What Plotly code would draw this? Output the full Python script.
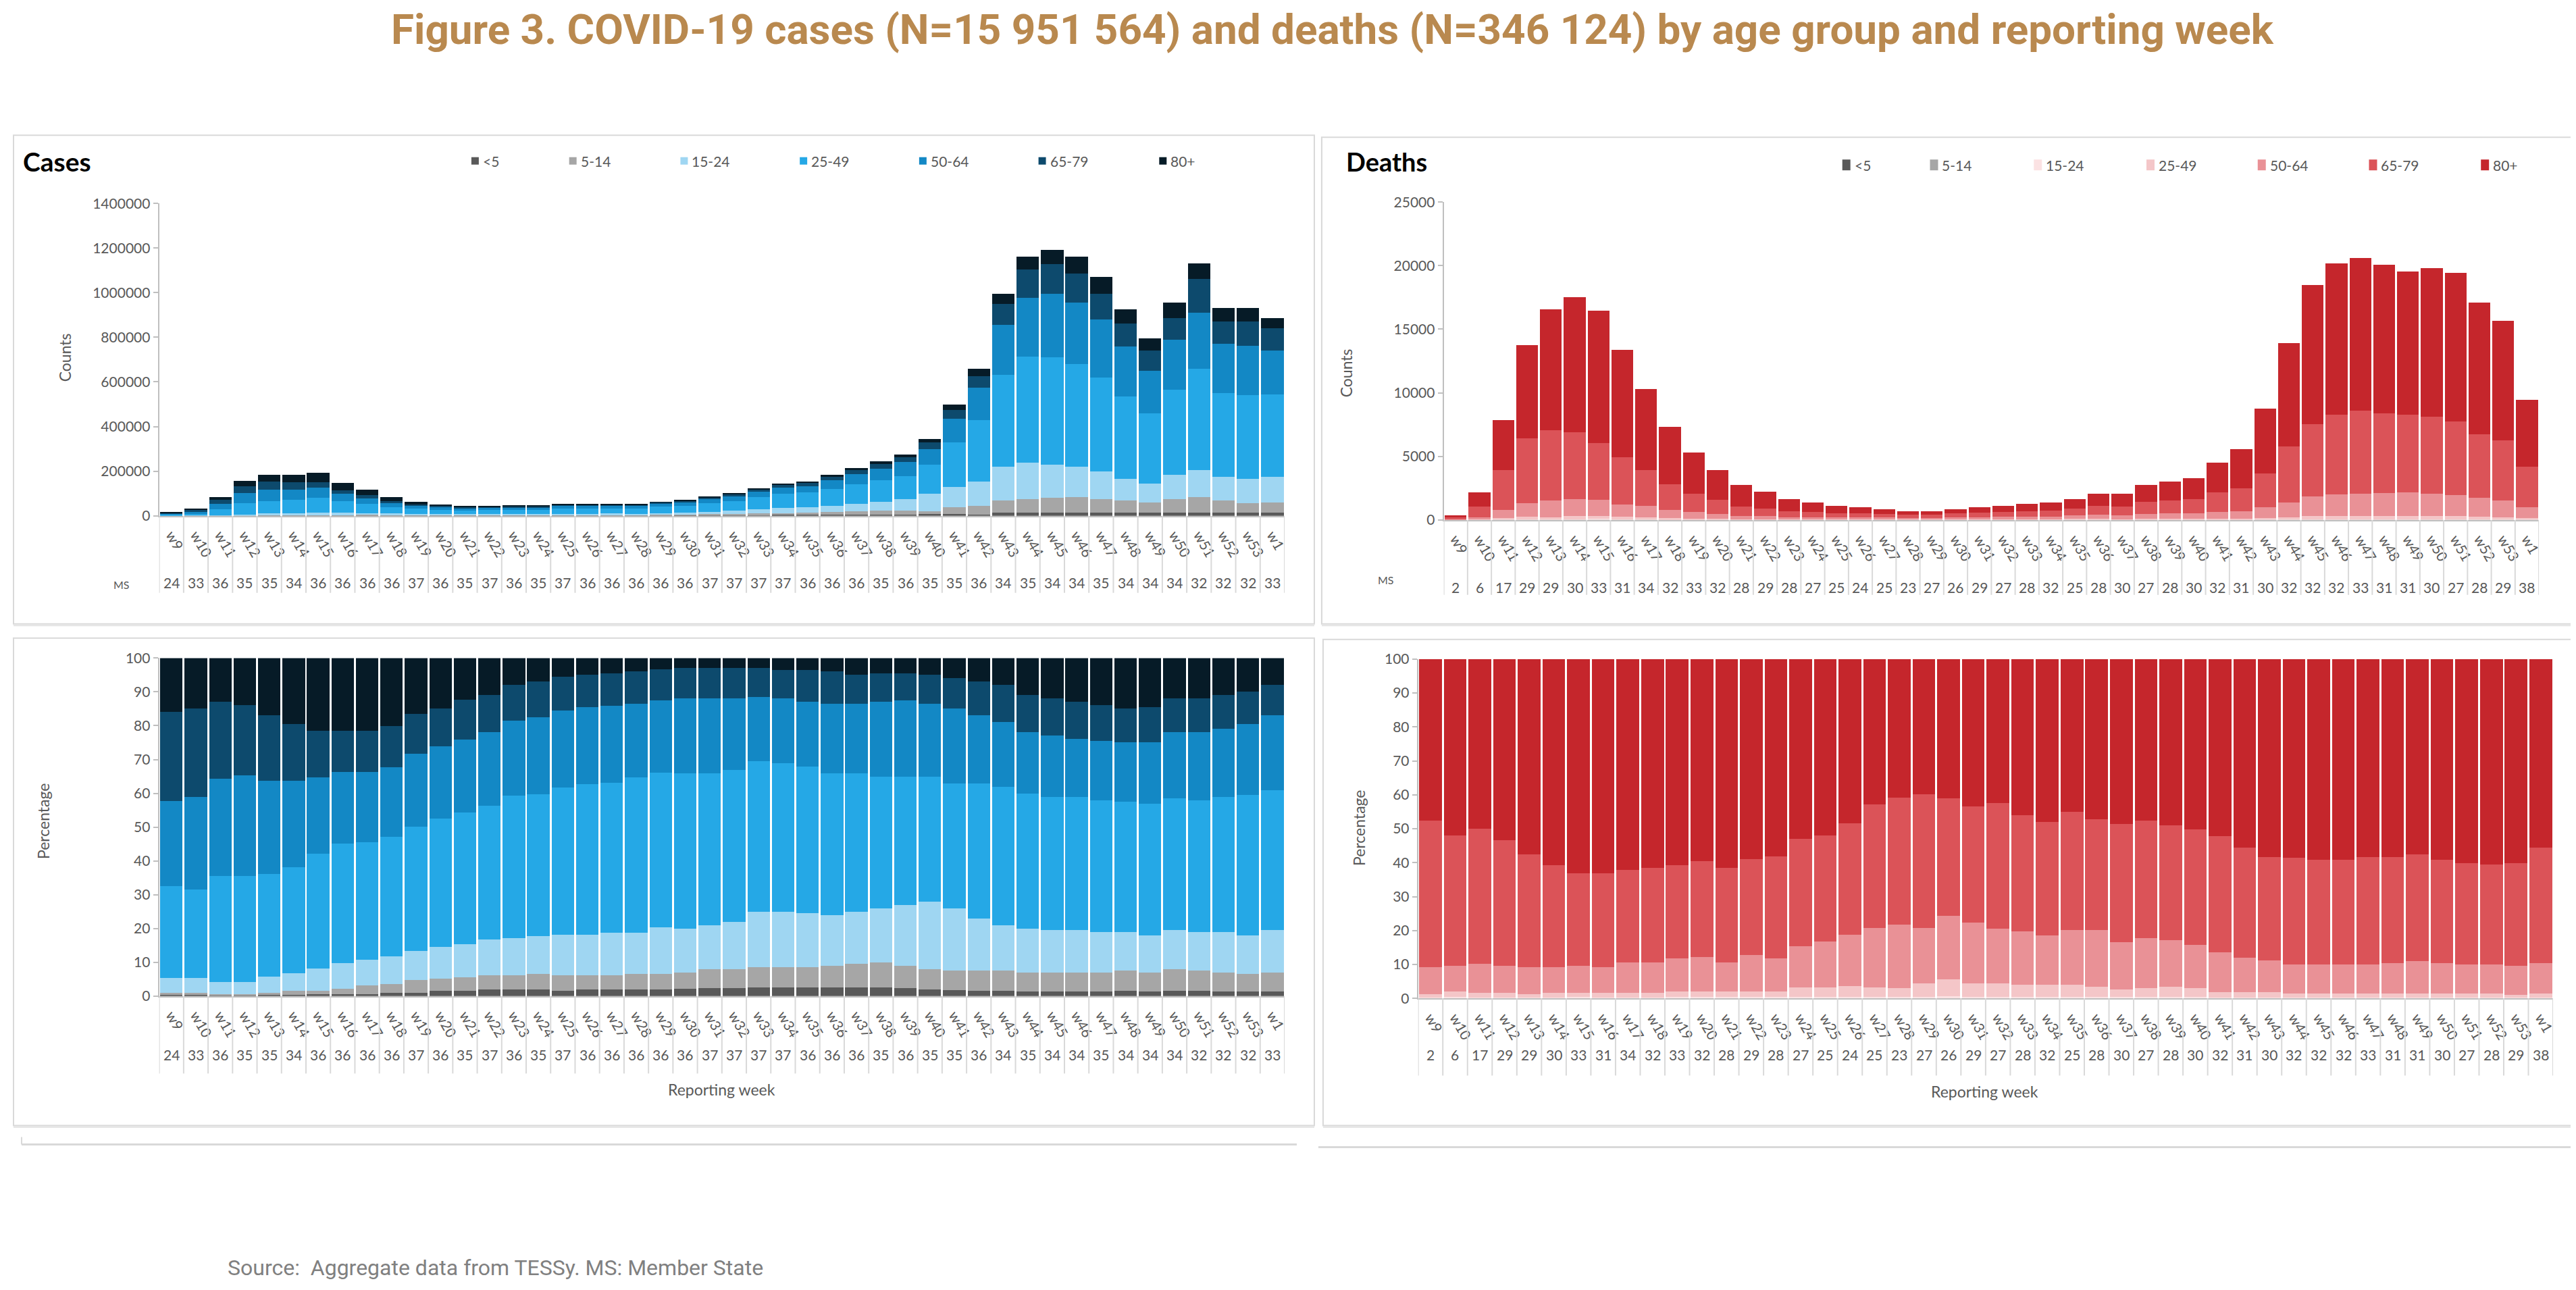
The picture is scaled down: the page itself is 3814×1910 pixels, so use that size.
import numpy as np
import plotly.graph_objects as go

W, H = 3814, 1910

# ---------------- data ----------------
weeks = ["w9", "w10", "w11", "w12", "w13", "w14", "w15", "w16", "w17", "w18", "w19", "w20",
         "w21", "w22", "w23", "w24", "w25", "w26", "w27", "w28", "w29", "w30", "w31", "w32",
         "w33", "w34", "w35", "w36", "w37", "w38", "w39", "w40", "w41", "w42", "w43", "w44",
         "w45", "w46", "w47", "w48", "w49", "w50", "w51", "w52", "w53", "w1"]
age_groups = ["<5", "5-14", "15-24", "25-49", "50-64", "65-79", "80+"]

cases_ms = [24, 33, 36, 35, 35, 34, 36, 36, 36, 36, 37, 36, 35, 37, 36, 35, 37, 36, 36, 36, 36,
            36, 37, 37, 37, 37, 36, 36, 36, 35, 36, 35, 35, 36, 34, 35, 34, 34, 35, 34, 34, 34,
            32, 32, 32, 33]
deaths_ms = [2, 6, 17, 29, 29, 30, 33, 31, 34, 32, 33, 32, 28, 29, 28, 27, 25, 24, 25, 23, 27,
             26, 29, 27, 28, 32, 25, 28, 30, 27, 28, 30, 32, 31, 30, 32, 32, 32, 33, 31, 31, 30,
             27, 28, 29, 38]

cases_total = [15000, 30000, 84000, 155000, 185000, 185000, 193000, 147000, 117000, 84000,
               62000, 52000, 45000, 45000, 45000, 45000, 52000, 52000, 52000, 51000, 61000,
               68000, 84000, 99000, 122000, 145000, 153000, 183000, 215000, 244000, 275000,
               345000, 498000, 658000, 994000, 1162000, 1192000, 1162000, 1070000, 924000,
               794000, 955000, 1131000, 932000, 932000, 886000]
deaths_total = [333, 2186, 7840, 13760, 16560, 17510, 16440, 13360, 10270, 7300, 5280, 3920,
                2730, 2190, 1640, 1350, 1120, 975, 830, 690, 690, 830, 975, 1120, 1240, 1380,
                1640, 2045, 2045, 2730, 2995, 3255, 4490, 5560, 8770, 13900, 18460, 20200,
                20600, 20080, 19530, 19820, 19420, 17110, 15660, 9430]

# Cases, counts panel: cumulative % of each bar up to the upper bound of each age group
cases_cnt_cum_lt5 = [0.3, 0.3, 0.2, 0.2, 0.3, 0.4, 0.5, 0.6, 0.6, 1.0, 1.0, 1.5, 1.5, 2.0, 2.0,
                     2.0, 1.5, 2.0, 2.0, 2.0, 2.0, 2.2, 2.3, 2.3, 2.5, 2.5, 2.5, 2.5, 2.5, 2.5,
                     2.3, 2.0, 1.4, 1.0, 1.5, 1.3, 1.2, 1.3, 1.4, 1.6, 1.9, 1.6, 1.3, 1.6, 1.6, 1.7]
cases_cnt_cum_5_14 = [1.05, 1.0, 0.6, 0.6, 1.0, 1.5, 1.6, 2.1, 3.1, 3.6, 4.7, 5.2, 5.6, 6.1, 6.1,
                      6.6, 6.1, 6.1, 6.1, 6.6, 6.6, 7.0, 8.0, 8.0, 8.5, 8.5, 8.5, 9.0, 9.5, 10.0,
                      9.0, 5.9, 7.7, 6.8, 6.8, 6.4, 6.9, 7.1, 7.0, 7.3, 7.4, 7.8, 7.3, 7.3, 6.2, 6.6]
cases_cnt_cum_15_24 = [5.3, 5.3, 4.1, 4.1, 5.7, 6.7, 8.1, 9.8, 10.7, 11.7, 13.4, 14.6, 15.3, 16.7,
                       17.2, 17.7, 18.2, 18.2, 18.7, 18.7, 20.3, 20.0, 21.0, 22.0, 25.0, 25.0,
                       24.5, 24.0, 25.0, 26.0, 27.0, 28.6, 25.8, 23.3, 22.2, 20.4, 19.3, 19.0,
                       18.5, 18.0, 18.1, 19.1, 18.1, 18.6, 17.8, 19.6]
cases_cnt_cum_25_49 = [32.5, 31.6, 35.6, 35.6, 36.1, 38.1, 42.1, 45.2, 45.6, 47.2, 50.2, 52.6,
                       54.3, 56.3, 59.3, 59.8, 61.7, 62.7, 63.2, 64.8, 66.2, 66.0, 66.0, 67.0,
                       69.5, 69.0, 68.0, 66.0, 66.0, 65.0, 65.0, 66.6, 66.0, 65.1, 63.7, 61.3,
                       59.7, 58.6, 57.9, 58.0, 58.0, 59.2, 58.2, 58.9, 58.1, 61.3]
cases_cnt_cum_50_64 = [57.7, 58.9, 64.3, 65.3, 63.8, 63.8, 64.8, 66.3, 66.3, 67.8, 71.8, 73.9,
                       75.9, 78.0, 81.5, 82.5, 84.5, 85.5, 85.9, 86.5, 87.5, 88.0, 88.0, 88.0,
                       88.5, 88.0, 87.0, 86.5, 86.5, 87.0, 87.5, 86.6, 87.2, 87.5, 86.1, 84.2,
                       83.4, 82.2, 82.2, 82.0, 81.9, 82.6, 80.6, 82.8, 81.9, 83.7]
cases_cnt_cum_65_79 = [84.0, 85.0, 87.0, 86.0, 83.0, 80.5, 78.5, 78.5, 78.5, 79.9, 83.5, 85.0,
                       87.6, 89.0, 92.1, 93.1, 94.5, 95.0, 95.5, 96.1, 96.6, 97.0, 97.0, 97.0,
                       97.0, 96.5, 96.5, 96.0, 95.0, 95.5, 95.5, 95.3, 95.4, 95.3, 95.4, 94.9,
                       94.6, 93.5, 92.9, 93.4, 93.4, 92.8, 94.0, 93.3, 93.3, 94.8]

# Cases, percentage panel: cumulative percentage up to the upper bound of each age group
cases_cum_lt5 = [0.3, 0.3, 0.2, 0.2, 0.3, 0.4, 0.5, 0.6, 0.6, 1.0, 1.0, 1.5, 1.5, 2.0, 2.0, 2.0,
                 1.5, 2.0, 2.0, 2.0, 2.0, 2.2, 2.3, 2.3, 2.5, 2.5, 2.5, 2.5, 2.5, 2.5, 2.3, 2.0,
                 1.8, 1.6, 1.5, 1.4, 1.4, 1.4, 1.4, 1.5, 1.4, 1.5, 1.5, 1.4, 1.3, 1.4]
cases_cum_5_14 = [1.05, 1.0, 0.6, 0.6, 1.0, 1.5, 1.6, 2.1, 3.1, 3.6, 4.7, 5.2, 5.6, 6.1, 6.1, 6.6,
                  6.1, 6.1, 6.1, 6.6, 6.6, 7.0, 8.0, 8.0, 8.5, 8.5, 8.5, 9.0, 9.5, 10.0, 9.0, 8.0,
                  7.5, 7.5, 7.5, 7.0, 7.0, 7.0, 7.0, 7.5, 7.0, 8.0, 7.5, 7.0, 6.5, 7.0]
cases_cum_15_24 = [5.3, 5.3, 4.1, 4.1, 5.7, 6.7, 8.1, 9.8, 10.7, 11.7, 13.4, 14.6, 15.3, 16.7, 17.2,
                   17.7, 18.2, 18.2, 18.7, 18.7, 20.3, 20.0, 21.0, 22.0, 25.0, 25.0, 24.5, 24.0,
                   25.0, 26.0, 27.0, 28.0, 26.0, 23.0, 21.0, 20.0, 19.5, 19.5, 19.0, 19.0, 18.0,
                   19.5, 19.0, 19.0, 18.0, 19.5]
cases_cum_25_49 = [32.5, 31.6, 35.6, 35.6, 36.1, 38.1, 42.1, 45.2, 45.6, 47.2, 50.2, 52.6, 54.3,
                   56.3, 59.3, 59.8, 61.7, 62.7, 63.2, 64.8, 66.2, 66.0, 66.0, 67.0, 69.5, 69.0,
                   68.0, 66.0, 66.0, 65.0, 65.0, 65.0, 63.0, 63.0, 62.0, 60.0, 59.0, 59.0, 58.0,
                   57.5, 57.0, 58.5, 58.0, 59.0, 59.5, 61.0]
cases_cum_50_64 = [57.7, 58.9, 64.3, 65.3, 63.8, 63.8, 64.8, 66.3, 66.3, 67.8, 71.8, 73.9, 75.9,
                   78.0, 81.5, 82.5, 84.5, 85.5, 85.9, 86.5, 87.5, 88.0, 88.0, 88.0, 88.5, 88.0,
                   87.0, 86.5, 86.5, 87.0, 87.5, 86.5, 85.0, 83.0, 81.0, 78.0, 77.0, 76.0, 75.5,
                   75.0, 75.0, 78.0, 78.0, 79.0, 80.5, 83.0]
cases_cum_65_79 = [84.0, 85.0, 87.0, 86.0, 83.0, 80.5, 78.5, 78.5, 78.5, 79.9, 83.5, 85.0, 87.6,
                   89.0, 92.1, 93.1, 94.5, 95.0, 95.5, 96.1, 96.6, 97.0, 97.0, 97.0, 97.0, 96.5,
                   96.5, 96.0, 95.0, 95.5, 95.5, 95.0, 94.0, 93.0, 92.0, 89.0, 88.0, 87.0, 86.0,
                   85.0, 85.5, 88.0, 88.0, 89.0, 90.0, 92.0]

# Deaths: cumulative percentage up to the upper bound of each age group
deaths_cum_lt5 = [0.0] * 46
deaths_cum_5_14 = [0.1] * 46
deaths_cum_15_24 = [0.3, 0.4, 0.3, 0.3, 0.3, 0.3, 0.4, 0.3, 0.3, 0.3, 0.4, 0.4, 0.4, 0.4, 0.4,
                    0.4, 0.4, 0.4, 0.4, 0.4, 0.4, 0.7, 0.4, 0.4, 0.4, 0.4, 0.4, 0.4, 0.5, 0.4,
                    0.4, 0.4, 0.3, 0.3, 0.3, 0.3, 0.3, 0.3, 0.3, 0.3, 0.3, 0.3, 0.3, 0.3, 0.3, 0.3]
deaths_cum_25_49 = [1.3, 2.1, 1.7, 1.7, 1.3, 1.7, 1.7, 1.7, 1.7, 1.7, 2.1, 2.1, 2.1, 2.1, 2.1, 3.2,
                    3.2, 3.7, 3.2, 3.1, 4.4, 5.7, 4.4, 4.4, 4.0, 4.0, 4.0, 3.5, 2.6, 3.1, 3.5, 3.1,
                    1.9, 1.9, 1.9, 1.5, 1.5, 1.5, 1.5, 1.5, 1.5, 1.5, 1.5, 1.5, 1.1, 1.5]
deaths_cum_50_64 = [9.2, 9.7, 10.2, 9.7, 9.2, 9.2, 9.7, 9.2, 10.7, 10.7, 11.8, 12.3, 10.7, 12.8,
                    11.8, 15.3, 16.8, 18.8, 20.8, 21.8, 20.7, 24.3, 22.3, 20.6, 19.7, 18.6, 20.2,
                    20.2, 16.6, 17.7, 17.2, 15.7, 13.7, 12.1, 11.2, 10.0, 10.0, 10.0, 10.0, 10.5,
                    11.1, 10.5, 10.0, 10.0, 9.6, 10.5]
deaths_cum_65_79 = [52.4, 48.0, 50.0, 46.6, 42.5, 39.3, 36.9, 36.9, 37.9, 38.5, 39.3, 40.5, 38.5,
                    41.0, 41.8, 47.0, 48.0, 51.6, 57.1, 59.1, 60.2, 59.0, 56.5, 57.6, 54.0, 52.0,
                    54.9, 52.9, 51.5, 52.4, 51.0, 49.9, 47.9, 44.4, 41.7, 41.4, 40.9, 40.9, 41.7,
                    41.7, 42.4, 40.9, 39.8, 39.4, 39.8, 44.4]

cases_colors = ["#595959", "#A6A6A6", "#9FD6F2", "#25A8E6", "#1388C5", "#0D4A6D", "#061B27"]
deaths_colors = ["#595959", "#A6A6A6", "#FBE2E3", "#F4C6C8", "#E99196", "#DB5358", "#C5262C"]

# ---------------- helpers ----------------
def shares_from_cum(*cums):
    arr = np.array([np.zeros(46)] + [np.array(c, float) for c in cums] + [np.full(46, 100.0)])
    return np.diff(arr, axis=0)

cases_share = shares_from_cum(cases_cum_lt5, cases_cum_5_14, cases_cum_15_24, cases_cum_25_49,
                              cases_cum_50_64, cases_cum_65_79)
cases_cnt_share = shares_from_cum(cases_cnt_cum_lt5, cases_cnt_cum_5_14, cases_cnt_cum_15_24,
                                  cases_cnt_cum_25_49, cases_cnt_cum_50_64, cases_cnt_cum_65_79)
deaths_share = shares_from_cum(deaths_cum_lt5, deaths_cum_5_14, deaths_cum_15_24, deaths_cum_25_49,
                               deaths_cum_50_64, deaths_cum_65_79)
cases_counts = cases_cnt_share * np.array(cases_total) / 100.0
deaths_counts = deaths_share * np.array(deaths_total) / 100.0


def px(x):
    return x / W


def py(y):
    return 1 - ((y - 22) / 0.986) / H


FONT = "Lato"
GREY = "#595959"

fig = go.Figure()

panels = [
    dict(ax="", vals=cases_counts, colors=cases_colors, x0=228, x1=1897, yb=763, yt=301,
         yr=[0, 1400000], dt=200000, ms=cases_ms, ms_y=862, sep=877, tf="d"),
    dict(ax="2", vals=cases_share, colors=cases_colors, x0=228, x1=1897, yb=1473.5, yt=973.5,
         yr=[0, 100], dt=10, ms=cases_ms, ms_y=1575, sep=1588, tf=""),
    dict(ax="3", vals=deaths_counts, colors=deaths_colors, x0=2133, x1=3757, yb=769, yt=299,
         yr=[0, 25000], dt=5000, ms=deaths_ms, ms_y=869, sep=880, tf="d"),
    dict(ax="4", vals=deaths_share, colors=deaths_colors, x0=2095, x1=3778, yb=1477, yt=975,
         yr=[0, 100], dt=10, ms=deaths_ms, ms_y=1575, sep=1591, tf=""),
]

layout_axes = {}
shapes = []
annotations = []

for p in panels:
    xa = "x" + p["ax"]
    ya = "y" + p["ax"]
    for g, v, c in zip(age_groups, p["vals"], p["colors"]):
        fig.add_trace(go.Bar(x=weeks, y=v, name=g, marker=dict(color=c, line=dict(width=0)),
                             xaxis=xa, yaxis=ya, showlegend=False))
    layout_axes["xaxis" + p["ax"]] = dict(
        domain=[px(p["x0"]), px(p["x1"])], anchor=ya, type="category", range=[-0.5, 45.5],
        showline=True, linecolor="#BFBFBF", linewidth=2, ticks="", showgrid=False,
        tickangle=60, tickfont=dict(family=FONT, size=21, color=GREY), ticklabelstandoff=6)
    layout_axes["yaxis" + p["ax"]] = dict(
        domain=[py(p["yb"]), py(p["yt"])], anchor=xa, range=p["yr"], dtick=p["dt"], tick0=0,
        tickformat=p["tf"], showline=True, linecolor="#BFBFBF", linewidth=2, ticks="outside",
        ticklen=7, tickcolor="#BFBFBF", tickwidth=2, showgrid=False, zeroline=False,
        tickfont=dict(family=FONT, size=21, color=GREY))
    # category separators of the two-level axis
    for i in range(47):
        shapes.append(dict(type="line", xref=xa, yref="paper", x0=i - 0.5, x1=i - 0.5,
                           y0=py(p["yb"]), y1=py(p["sep"]),
                           line=dict(color="#D9D9D9", width=2)))
    # member-state counts
    for wk, n in zip(weeks, p["ms"]):
        annotations.append(dict(x=wk, xref=xa, y=py(p["ms_y"]), yref="paper", text=str(n),
                                showarrow=False, font=dict(family=FONT, size=21, color=GREY)))

# panel boxes
for (x0, y0, x1, y1) in [(12, 200, 1941, 923), (12, 944, 1941, 1665),
                         (1952, 203, 3809, 923), (1954, 946, 3809, 1665)]:
    shapes.append(dict(type="rect", xref="paper", yref="paper", x0=px(x0), x1=px(x1),
                       y0=py(y1), y1=py(y0), line=dict(color="#D9D9D9", width=2)))
    shapes.append(dict(type="line", xref="paper", yref="paper", x0=px(x0), x1=px(x1),
                       y0=py(y1 + 2), y1=py(y1 + 2), line=dict(color="#E6E6E6", width=3)))
# partial boxes below
shapes.append(dict(type="line", xref="paper", yref="paper", x0=px(24), x1=px(1915),
                   y0=py(1693), y1=py(1693), line=dict(color="#D9D9D9", width=3)))
shapes.append(dict(type="line", xref="paper", yref="paper", x0=px(24), x1=px(24),
                   y0=py(1682), y1=py(1693), line=dict(color="#D9D9D9", width=2)))
shapes.append(dict(type="line", xref="paper", yref="paper", x0=px(1947), x1=px(3814),
                   y0=py(1697), y1=py(1697), line=dict(color="#D9D9D9", width=3)))

# legends
def legend(text_x, y, colors, w, h, size):
    for g, tx, c in zip(age_groups, text_x, colors):
        shapes.append(dict(type="rect", xref="paper", yref="paper", x0=px(tx - 4 - w),
                           x1=px(tx - 4), y0=py(y + h / 2), y1=py(y - h / 2),
                           fillcolor=c, line=dict(width=0)))
        annotations.append(dict(x=px(tx), y=py(y), xref="paper", yref="paper", text=g,
                                xanchor="left", yanchor="middle", showarrow=False,
                                font=dict(family=FONT, size=size, color=GREY)))

legend([706, 851, 1016, 1193, 1370, 1547, 1726], 238, cases_colors, 11, 11, 21)
legend([2740, 2870, 3024, 3191, 3356, 3521, 3687], 244, deaths_colors, 12, 16, 21)

def text(x, y, s, size, color=GREY, bold=False, angle=0, xanchor="center", family=FONT):
    annotations.append(dict(x=px(x), y=py(y), xref="paper", yref="paper",
                            text=f"<b>{s}</b>" if bold else s, textangle=angle,
                            xanchor=xanchor, yanchor="middle", showarrow=False,
                            font=dict(family=family, size=size, color=color)))

text(24, 239, "Cases", 39, "#000000", True, xanchor="left")
text(1986, 239, "Deaths", 38, "#000000", True, xanchor="left")
text(89, 529, "Counts", 23, angle=-90)
text(1989, 552, "Counts", 23, angle=-90)
text(56, 1215, "Percentage", 23, angle=-90)
text(2007, 1225, "Percentage", 23, angle=-90)
text(1062, 1612, "Reporting week", 23)
text(2935, 1615, "Reporting week", 23)
text(172, 865, "MS", 16)
text(2047, 858, "MS", 16)
text(1968, 43, "Figure 3. COVID-19 cases (N=15 951 564) and deaths (N=346 124) by age group and reporting week",
     62, "#B9894F", True, family="Roboto")
text(328, 1875, "Source:  Aggregate data from TESSy. MS: Member State", 32, "#808080",
     xanchor="left", family="Roboto")

fig.update_layout(
    width=W, height=H, margin=dict(l=0, r=0, t=0, b=0), paper_bgcolor="white",
    plot_bgcolor="white", barmode="stack", bargap=0.08, showlegend=False,
    shapes=shapes, annotations=annotations, **layout_axes)

fig.write_html("out.html")
